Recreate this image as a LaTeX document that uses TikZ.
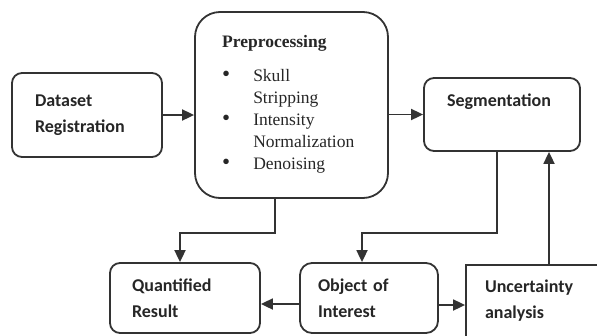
\documentclass[tikz,border=0pt]{standalone}
\usepackage{fontspec}
\setmainfont{Liberation Serif}
\setsansfont{Carlito}
\usetikzlibrary{arrows.meta, positioning}

\newcommand{\bigdot}{{\fontsize{23}{22}\selectfont\textbullet}}

\begin{document}
\begin{tikzpicture}[
            x=1pt, y=-1pt,
            box/.style={rectangle, draw=black!80, line width=1.8pt, rounded corners=10pt, align=left, text=black!85, font=\sffamily\bfseries\fontsize{18}{26}\selectfont},
            plain/.style={text=black!85, align=left, inner sep=0pt},
            arrow/.style={line width=1.8pt, draw=black!80, -{Triangle[length=12pt, width=11pt]}}
          ]
  \clip (0,0) rectangle (597,335);

          % Boxes
          \node (dataset) [box, minimum width=150pt, minimum height=84pt, text width=104pt] at (87,115) {Dataset\\Registration};
          \node (prep) [box, rounded corners=25pt, minimum width=193pt, minimum height=186pt] at (291.5,105) {};
          \node (preptext) [plain, anchor=north west, font=\rmfamily\fontsize{17.5}{22}\selectfont] at (222,35) {%
            \textbf{Preprocessing}\\[14pt]
            \begin{tabular}{@{}l@{\hspace{23pt}}l@{}}
              \bigdot & Skull\\
                      & Stripping\\
              \bigdot & Intensity\\
                      & Normalization\\
              \bigdot & Denoising
            \end{tabular}};
          \node (seg) [box, minimum width=156pt, minimum height=73pt] at (502,114.5) {};
          \node (segtext) [plain, font=\sffamily\bfseries\fontsize{18}{26}\selectfont] at (499,102) {Segmentation};
          \node (quant) [box, minimum width=150pt, minimum height=70pt, text width=106pt] at (185,298) {Quantified\\Result};
          \node (obj) [box, rounded corners=12pt, minimum width=138pt, minimum height=70pt, text width=102pt] at (369,298) {Object of\\Interest};
          \node (uncert) [box, rounded corners=0pt, minimum width=150pt, minimum height=72pt, text width=112pt] at (541,301) {Uncertainty\\analysis};

          % Connections
          \draw [arrow] (dataset.east) -- (dataset.east -| prep.west);
          \draw [arrow] (prep.east |- seg.west) -- (seg.west);
          \draw [arrow] ([xshift=-5pt]seg.south) -- ++(0,81) -| ([xshift=-7pt]obj.north);
          \draw [arrow] ([xshift=-16.5pt]prep.south) -- ++(0,34) -| ([xshift=-5pt]quant.north);
          \draw [arrow] ([yshift=-6pt]obj.west) -- ([yshift=-6pt]obj.west -| quant.east);
          \draw [arrow] ([yshift=-7pt]obj.east) -- ([yshift=-7pt]obj.east -| uncert.west);
          \draw [arrow] ([xshift=8pt]uncert.north) -- ([xshift=8pt]uncert.north |- seg.south);

        \end{tikzpicture}
\end{document}
